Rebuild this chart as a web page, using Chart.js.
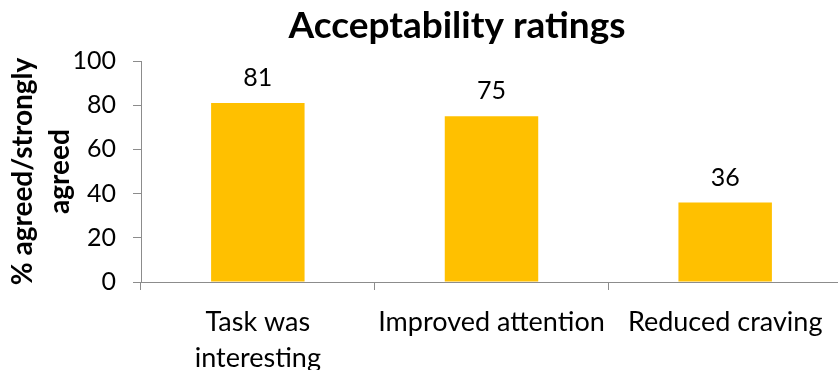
<!DOCTYPE html>
<html>
<head>
<meta charset="utf-8">
<script src="https://cdn.jsdelivr.net/npm/chart.js@4"></script>
<style>
  html, body { margin: 0; padding: 0; background: #fff; overflow: hidden; }
  .wrap { width: 842px; height: 370px; }
</style>
</head>
<body>
<div class="wrap"><canvas id="myChart" width="842" height="370"></canvas></div>
<script>
const categories = [['Task was', 'interesting'], 'Improved attention', 'Reduced craving'];
const ratings = [81, 75, 36];
const yTicks = [0, 20, 40, 60, 80, 100];

const fontName = 'Lato, "Open Sans", sans-serif';
const axisGrey = '#8c8c8c';

// value labels above the bars
const barLabels = {
    id: 'barLabels',
    afterDatasetsDraw(chart) {
        const ctx = chart.ctx;
        const meta = chart.getDatasetMeta(0);
        ctx.save();
        ctx.font = '25px ' + fontName;
        ctx.fillStyle = '#000';
        ctx.textAlign = 'center';
        ctx.textBaseline = 'middle';
        meta.data.forEach(function (bar, i) {
            ctx.fillText(ratings[i], bar.x, bar.y - 25);
        });
        ctx.restore();
    }
};

// title, placed the way the original sits (not centered on canvas)
const titleText = {
    id: 'titleText',
    afterDraw(chart) {
        const ctx = chart.ctx;
        ctx.save();
        ctx.font = 'bold 37px ' + fontName;
        ctx.fillStyle = '#000';
        ctx.textAlign = 'center';
        ctx.textBaseline = 'middle';
        ctx.fillText('Acceptability ratings', 457, 26);
        ctx.restore();
    }
};

new Chart(document.getElementById('myChart'), {
    type: 'bar',
    data: {
        labels: categories,
        datasets: [{
            data: ratings,
            backgroundColor: '#FFC000',
            categoryPercentage: 1,
            barPercentage: 0.4
        }]
    },
    options: {
        responsive: false,
        animation: false,
        layout: { padding: { top: 61, left: 0, right: 0, bottom: 0 } },
        plugins: {
            legend: { display: false },
            tooltip: { enabled: false }
        },
        scales: {
            x: {
                offset: true,
                grid: {
                    offset: true,
                    drawOnChartArea: false,
                    drawTicks: true,
                    tickLength: 8,
                    color: axisGrey
                },
                border: { color: axisGrey, width: 1 },
                ticks: {
                    color: '#000',
                    padding: 14,
                    maxRotation: 0,
                    font: { family: fontName, size: 27, lineHeight: 1.33 }
                },
                afterFit: function (scale) { scale.height = 88; }
            },
            y: {
                min: 0,
                max: 100,
                afterBuildTicks: function (scale) {
                    scale.ticks = yTicks.map(v => ({ value: v }));
                },
                grid: {
                    drawOnChartArea: false,
                    drawTicks: true,
                    tickLength: 8,
                    color: axisGrey
                },
                border: { color: axisGrey, width: 1 },
                ticks: {
                    color: '#000',
                    padding: 17,
                    font: { family: fontName, size: 25 }
                },
                title: {
                    display: true,
                    text: ['% agreed/strongly', 'agreed'],
                    color: '#000',
                    padding: { top: 5, bottom: 0 },
                    font: { family: fontName, size: 28, weight: 'bold', lineHeight: 1.3 }
                },
                afterFit: function (scale) { scale.width = 141; }
            }
        }
    },
    plugins: [barLabels, titleText]
});
</script>
</body>
</html>
